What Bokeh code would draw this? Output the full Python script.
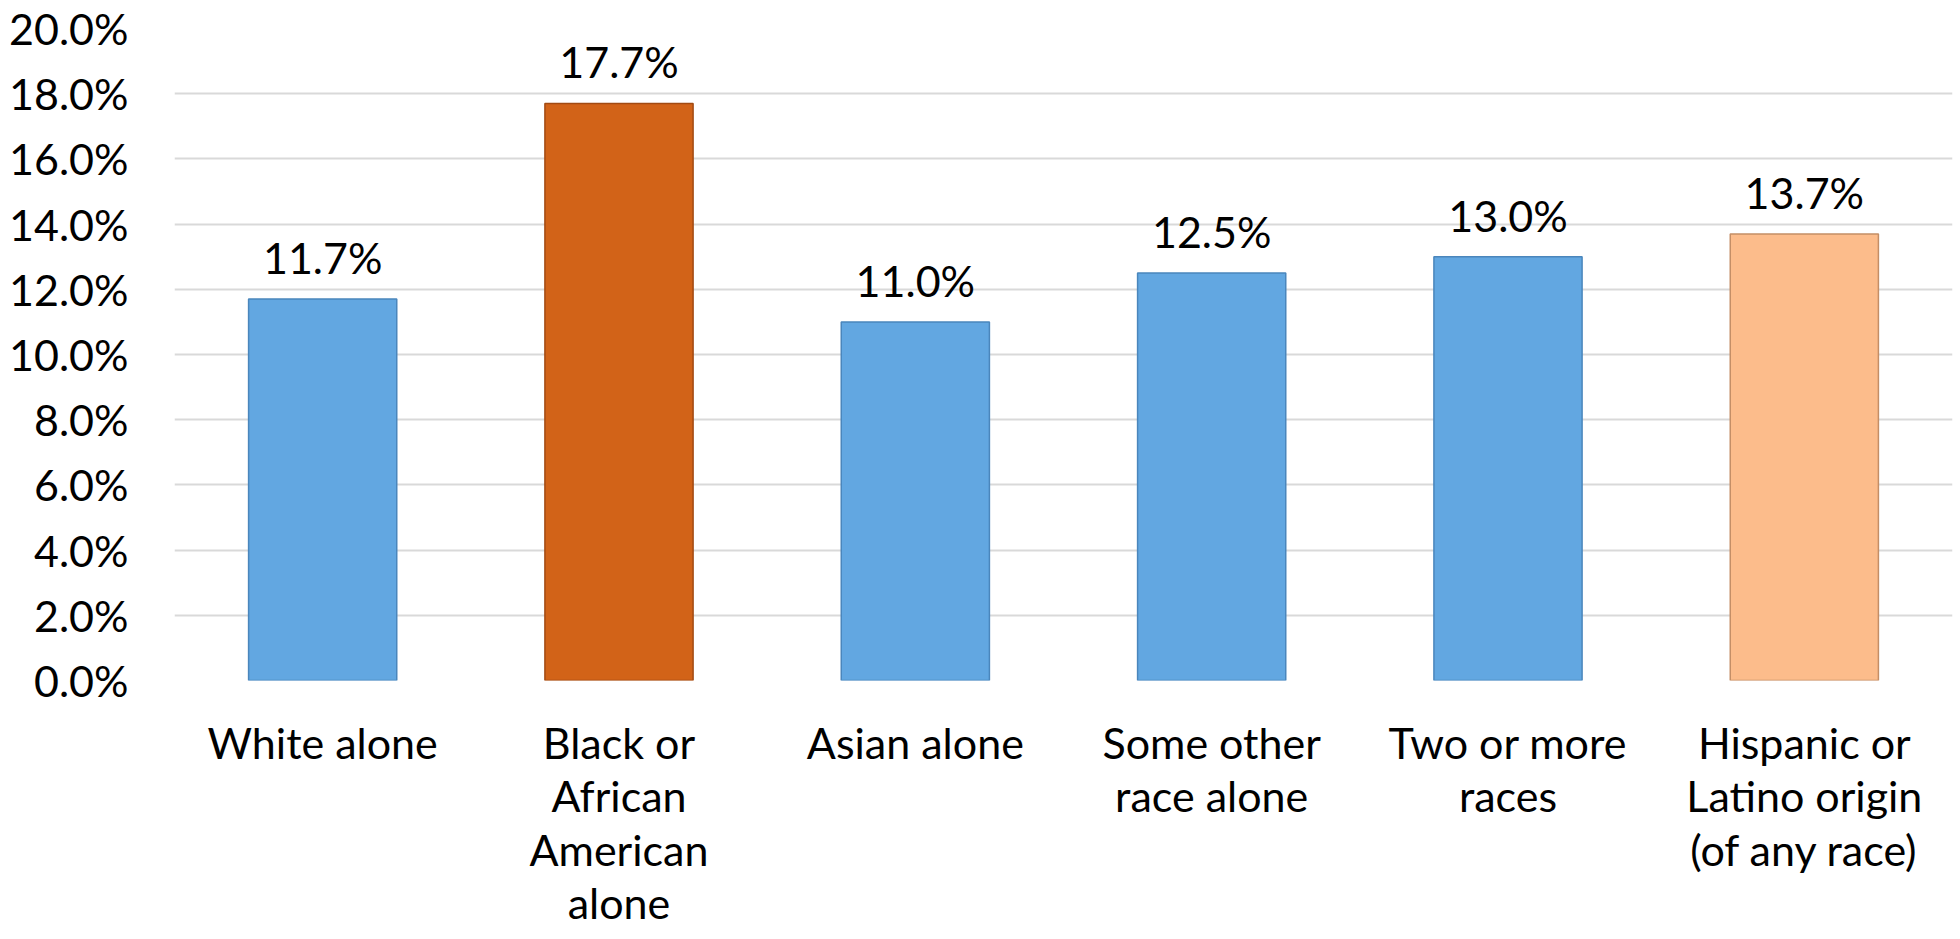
from bokeh.plotting import figure
from bokeh.models import ColumnDataSource, LabelSet, PrintfTickFormatter, FactorRange, FixedTicker
from bokeh.core.properties import value
from bokeh.embed import file_html
from bokeh.resources import INLINE

categories = ["White alone", "Black or\nAfrican\nAmerican\nalone", "Asian alone",
              "Some other\nrace alone", "Two or more\nraces",
              "Hispanic or\nLatino origin\n(of any race)"]
values = [11.7, 17.7, 11.0, 12.5, 13.0, 13.7]
value_labels = [f"{v:.1f}%" for v in values]
y_ticks = [0, 2, 4, 6, 8, 10, 12, 14, 16, 18, 20]

bar_colors = ["#62A7E1", "#D26318", "#62A7E1", "#62A7E1", "#62A7E1", "#FCBC8B"]
edge_colors = ["#4A86BC", "#A24A12", "#4A86BC", "#4A86BC", "#4A86BC", "#C48E66"]

src = ColumnDataSource(dict(cat=categories, val=values, lab=value_labels,
                            fill=bar_colors, edge=edge_colors))

p = figure(x_range=FactorRange(*categories), y_range=(0, 20),
           frame_width=1778, frame_height=652,
           output_backend="svg", toolbar_location=None,
           min_border_left=174, min_border_top=28, min_border_right=5, min_border_bottom=20)

p.vbar(x="cat", top="val", width=0.5, source=src, fill_color="fill",
       line_color="edge", line_width=1.5)

labels = LabelSet(x="cat", y="val", text="lab", source=src, y_offset=25,
                  text_align="center", text_baseline="alphabetic",
                  text_font=value("Lato"), text_font_size="43px", text_color="#000000")
p.add_layout(labels)

p.outline_line_color = None
p.xgrid.grid_line_color = None
p.ygrid.grid_line_color = "#D9D9D9"
p.ygrid.grid_line_width = 2
p.yaxis.ticker = FixedTicker(ticks=y_ticks)
p.yaxis.formatter = PrintfTickFormatter(format="%.1f%%")

for ax in (p.xaxis[0], p.yaxis[0]):
    ax.axis_line_color = None
    ax.major_tick_line_color = None
    ax.minor_tick_line_color = None
    ax.major_tick_out = 0
    ax.major_tick_in = 0
    ax.major_label_text_font = "Lato"
    ax.major_label_text_font_size = "43px"
    ax.major_label_text_color = "#000000"

p.xaxis.major_label_text_line_height = 1.05
p.yaxis.major_label_standoff = 46
p.xaxis.major_label_standoff = 36

open("out.html", "w").write(file_html(p, INLINE))
